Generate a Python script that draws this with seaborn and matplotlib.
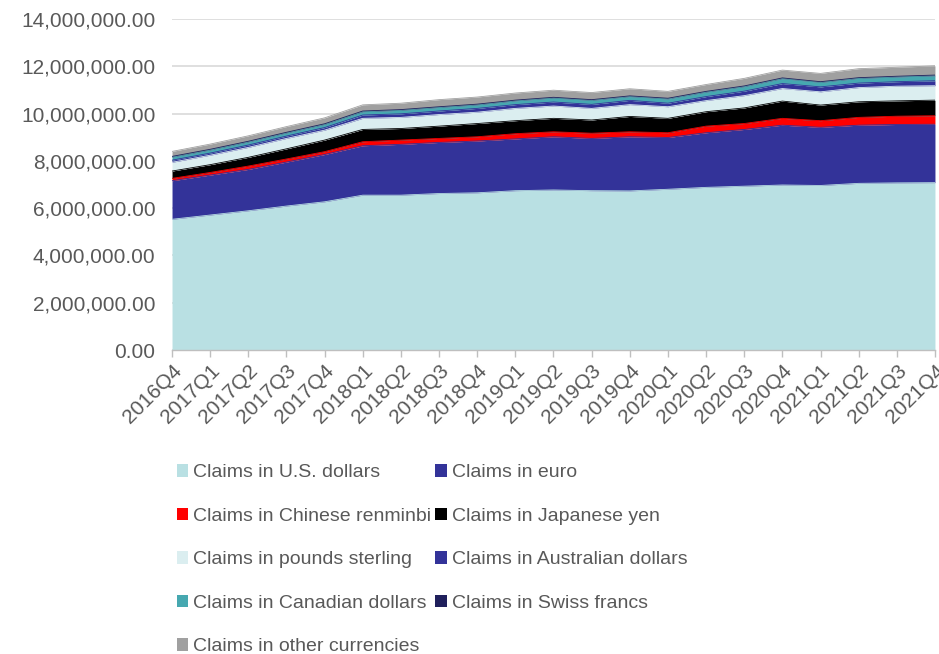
import matplotlib
matplotlib.use("Agg")
import matplotlib.pyplot as plt
import seaborn as sns
import pandas as pd
import numpy as np
from matplotlib.ticker import FuncFormatter, MultipleLocator
from matplotlib.patches import Patch

quarters = ["2016Q4", "2017Q1", "2017Q2", "2017Q3", "2017Q4", "2018Q1", "2018Q2",
            "2018Q3", "2018Q4", "2019Q1", "2019Q2", "2019Q3", "2019Q4", "2020Q1",
            "2020Q2", "2020Q3", "2020Q4", "2021Q1", "2021Q2", "2021Q3", "2021Q4"]

usd = [5530000, 5710000, 5890000, 6090000, 6270000, 6550000, 6550000, 6620000, 6650000,
       6740000, 6770000, 6740000, 6730000, 6800000, 6880000, 6930000, 6980000, 6960000,
       7050000, 7070000, 7080000]
eur = [1630000, 1690000, 1750000, 1860000, 2000000, 2090000, 2150000, 2160000, 2190000,
       2190000, 2250000, 2210000, 2290000, 2190000, 2310000, 2400000, 2530000, 2460000,
       2460000, 2470000, 2470000]
cny = [100000, 110000, 140000, 130000, 120000, 170000, 180000, 170000, 180000,
       220000, 210000, 220000, 210000, 200000, 280000, 250000, 290000, 280000,
       330000, 350000, 360000]
jpy = [310000, 330000, 370000, 430000, 490000, 520000, 490000, 520000, 560000,
       550000, 570000, 560000, 650000, 610000, 610000, 660000, 730000, 660000,
       660000, 650000, 660000]
gbp = [370000, 400000, 420000, 440000, 420000, 470000, 470000, 490000, 480000,
       520000, 520000, 490000, 500000, 490000, 470000, 520000, 530000, 560000,
       600000, 620000, 610000]
aud = [90000, 90000, 100000, 100000, 110000, 140000, 150000, 150000, 160000,
       160000, 170000, 170000, 180000, 150000, 170000, 190000, 210000, 210000,
       190000, 190000, 210000]
cad = [130000, 130000, 130000, 130000, 130000, 140000, 150000, 150000, 150000,
       160000, 170000, 170000, 160000, 180000, 190000, 190000, 210000, 190000,
       200000, 200000, 210000]
chf = [30000, 30000, 30000, 30000, 30000, 30000, 30000, 30000, 30000,
       30000, 30000, 30000, 30000, 30000, 30000, 30000, 30000, 30000,
       30000, 30000, 30000]
other = [210000, 220000, 230000, 240000, 250000, 260000, 270000, 300000, 300000,
         300000, 300000, 300000, 300000, 290000, 290000, 320000, 330000, 350000,
         380000, 380000, 390000]

labels = ["Claims in U.S. dollars", "Claims in euro", "Claims in Chinese renminbi",
          "Claims in Japanese yen", "Claims in pounds sterling",
          "Claims in Australian dollars", "Claims in Canadian dollars",
          "Claims in Swiss francs", "Claims in other currencies"]
colors = ["#b9e0e3", "#333399", "#ff0000", "#000000", "#dbeef0",
          "#333399", "#46a8b0", "#20205c", "#a0a0a0"]

series = [usd, eur, cny, jpy, gbp, aud, cad, chf, other]

sns.set_theme(style="white")
plt.rcParams['font.family'] = ['Liberation Sans', 'DejaVu Sans']

fig = plt.figure(figsize=(9.39, 6.54), dpi=100)
ax = fig.add_axes([0.1832, 0.4648, 0.9957 - 0.1832, 0.9709 - 0.4648])

x = np.arange(len(quarters))
df = pd.DataFrame({lab: s for lab, s in zip(labels, series)})
cum = df[labels].cumsum(axis=1)

bottom = np.zeros(len(x))
for lab, col in zip(labels, colors):
    top = cum[lab].values
    ax.fill_between(x, bottom, top, color=col, linewidth=0, zorder=2)
    bottom = top

long = cum.copy()
long["idx"] = x
long = long.melt(id_vars="idx", var_name="series", value_name="top")
sns.lineplot(data=long, x="idx", y="top", hue="series", palette=dict(zip(labels, colors)),
             linewidth=0.6, legend=False, ax=ax, zorder=3)

ax.set_xlim(0, len(x) - 1)
ax.set_ylim(0, 14000000)
ax.yaxis.set_major_locator(MultipleLocator(2000000))
ax.yaxis.set_major_formatter(FuncFormatter(lambda v, p: f"{v:,.2f}"))
ax.grid(axis="y", color="#d9d9d9", linewidth=1.2, zorder=0)
ax.grid(axis="x", visible=False)
ax.set_axisbelow(True)
ax.set_xticks(x)
ax.set_xticklabels(quarters, rotation=45, ha="right", rotation_mode="anchor")
ax.set_xlabel("")
ax.set_ylabel("")

for s in ["left", "right", "top"]:
    ax.spines[s].set_visible(False)
ax.spines["bottom"].set_color("#bfbfbf")
ax.spines["bottom"].set_linewidth(1.0)
ax.spines["bottom"].set_zorder(5)
ax.tick_params(axis="x", colors="#595959", labelsize=15, length=5, width=1,
               direction="out", bottom=True, pad=3)
ax.tick_params(axis="x", color="#bfbfbf")
ax.tick_params(axis="y", colors="#595959", labelsize=15, length=0, pad=12)

order = [0, 2, 4, 6, 8, 1, 3, 5, 7]
handles = [Patch(facecolor=colors[i], edgecolor="none") for i in order]
leg_labels = [labels[i] for i in order]
fig.legend(handles, leg_labels, ncol=2, loc="upper left",
           bbox_to_anchor=(0.180, 0.302), frameon=False, fontsize=14,
           labelcolor="#595959", handlelength=0.6, handleheight=0.6,
           handletextpad=0.25, columnspacing=0.2, labelspacing=1.36,
           borderaxespad=0)

fig.savefig("out.png", dpi=100)
